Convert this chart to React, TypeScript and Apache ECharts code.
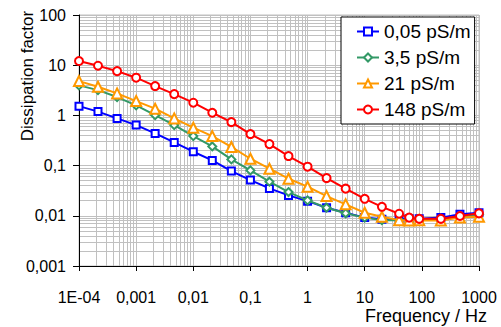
import React, { useEffect, useRef } from "react";
import * as echarts from "echarts";

const frequencies = [
  1e-4, 2.15e-4, 4.64e-4, 1e-3, 2.15e-3, 4.64e-3, 0.01, 0.0215, 0.0464, 0.1, 0.215, 0.464,
  1, 2.15, 4.64, 10, 20, 40, 60, 90, 215, 464, 1000,
];

const seriesNames = ["0,05 pS/m", "3,5 pS/m", "21 pS/m", "148 pS/m"];

const blueValues = [
  1.53, 1.19, 0.871, 0.641, 0.438, 0.29, 0.189, 0.127, 0.0777, 0.0514, 0.0351, 0.0255,
  0.0196, 0.0145, 0.0115, 0.0092, 0.0085, 0.0085, 0.0087, 0.0087, 0.0092, 0.0107, 0.0115,
];
const greenValues = [
  3.96, 3.19, 2.32, 1.58, 1.01, 0.641, 0.387, 0.241, 0.133, 0.0802, 0.0478, 0.0297,
  0.0203, 0.0145, 0.0112, 0.0092, 0.0082, 0.0082, 0.0084, 0.0084, 0.0086, 0.0096, 0.0106,
];
const orangeValues = [
  4.82, 3.73, 2.74, 1.93, 1.36, 0.871, 0.569, 0.387, 0.235, 0.137, 0.0868, 0.0548,
  0.038, 0.0247, 0.0169, 0.0115, 0.0096, 0.0082, 0.0081, 0.0082, 0.0081, 0.0092, 0.0096,
];
const redValues = [
  12.1, 9.77, 7.62, 5.64, 3.84, 2.65, 1.79, 1.13, 0.736, 0.425, 0.268, 0.155,
  0.0951, 0.0564, 0.0347, 0.0218, 0.0151, 0.011, 0.0092, 0.0087, 0.0087, 0.0099, 0.0112,
];

const xTickLabels = ["1E-04", "0,001", "0,01", "0,1", "1", "10", "100", "1000"];
const yTickLabels = ["0,001", "0,01", "0,1", "1", "10", "100"];

const FONT = "'Liberation Sans', Arial, sans-serif";

export default function App() {
  const ref = useRef<HTMLDivElement>(null);
  useEffect(() => {
    document.body.style.margin = "0";
    const chart = echarts.init(ref.current!, null, { renderer: "svg" });
    const valuesList = [blueValues, greenValues, orangeValues, redValues];
    const colors = ["#0000ff", "#339966", "#ff9900", "#ff0000"];
    const symbols = ["emptyRect", "emptyDiamond", "emptyTriangle", "emptyCircle"];
    const sizes = [7, 8, 10, 8];
    const gridColor = "#c0c0c0";
    chart.setOption({
      animation: false,
      textStyle: { fontFamily: FONT },
      grid: {
        left: 79,
        right: 22,
        top: 15,
        bottom: 61,
        show: true,
        borderColor: gridColor,
        borderWidth: 1,
        backgroundColor: "#fff",
      },
      legend: {
        orient: "vertical",
        left: 341,
        top: 17,
        padding: [5, 4, 5, 15],
        itemGap: 7,
        itemWidth: 22,
        itemHeight: 10,
        backgroundColor: "#fff",
        borderColor: "#000",
        borderWidth: 1,
        textStyle: { fontSize: 19, color: "#000", fontFamily: FONT },
        data: seriesNames,
      },
      xAxis: {
        type: "log",
        logBase: 10,
        min: 1e-4,
        max: 1000,
        splitNumber: 7,
        axisLine: { show: true, onZero: false, lineStyle: { color: "#000", width: 1 } },
        axisTick: { show: true, length: 5, lineStyle: { color: "#000" } },
        axisLabel: {
          margin: 23,
          fontSize: 16,
          color: "#000",
          fontFamily: FONT,
          formatter: (_v: number, i: number) => xTickLabels[i] ?? "",
        },
        splitLine: { show: true, lineStyle: { color: gridColor, width: 1 } },
        minorTick: { show: false, splitNumber: 9 },
        minorSplitLine: { show: true, lineStyle: { color: gridColor, width: 1 } },
      },
      yAxis: {
        type: "log",
        logBase: 10,
        min: 0.001,
        max: 100,
        splitNumber: 5,
        axisLine: { show: true, onZero: false, lineStyle: { color: "#000", width: 1 } },
        axisTick: { show: true, length: 6, lineStyle: { color: "#000" } },
        axisLabel: {
          margin: 13,
          fontSize: 16,
          color: "#000",
          fontFamily: FONT,
          formatter: (_v: number, i: number) => yTickLabels[i] ?? "",
        },
        splitLine: { show: true, lineStyle: { color: gridColor, width: 1 } },
        minorTick: { show: false, splitNumber: 9 },
        minorSplitLine: { show: true, lineStyle: { color: gridColor, width: 1 } },
      },
      graphic: [
        {
          type: "text",
          x: 27,
          y: 76,
          rotation: Math.PI / 2,
          style: {
            text: "Dissipation factor",
            fontSize: 17,
            fontFamily: FONT,
            fill: "#000",
            align: "center",
            verticalAlign: "middle",
          },
        },
        {
          type: "text",
          x: 487,
          y: 316,
          style: {
            text: "Frequency / Hz",
            fontSize: 18,
            fontFamily: FONT,
            fill: "#000",
            align: "right",
            verticalAlign: "middle",
          },
        },
      ],
      series: valuesList.map((vals, s) => ({
        name: seriesNames[s],
        type: "line",
        data: frequencies.map((f, i) => [f, vals[i]]),
        symbol: symbols[s],
        symbolSize: sizes[s],
        color: colors[s],
        lineStyle: { color: colors[s], width: 2 },
        itemStyle: { color: colors[s], borderColor: colors[s], borderWidth: 1.8 },
        z: 2 + s,
      })),
    });
    return () => chart.dispose();
  }, []);
  return <div ref={ref} style={{ width: 501, height: 327 }} />;
}
